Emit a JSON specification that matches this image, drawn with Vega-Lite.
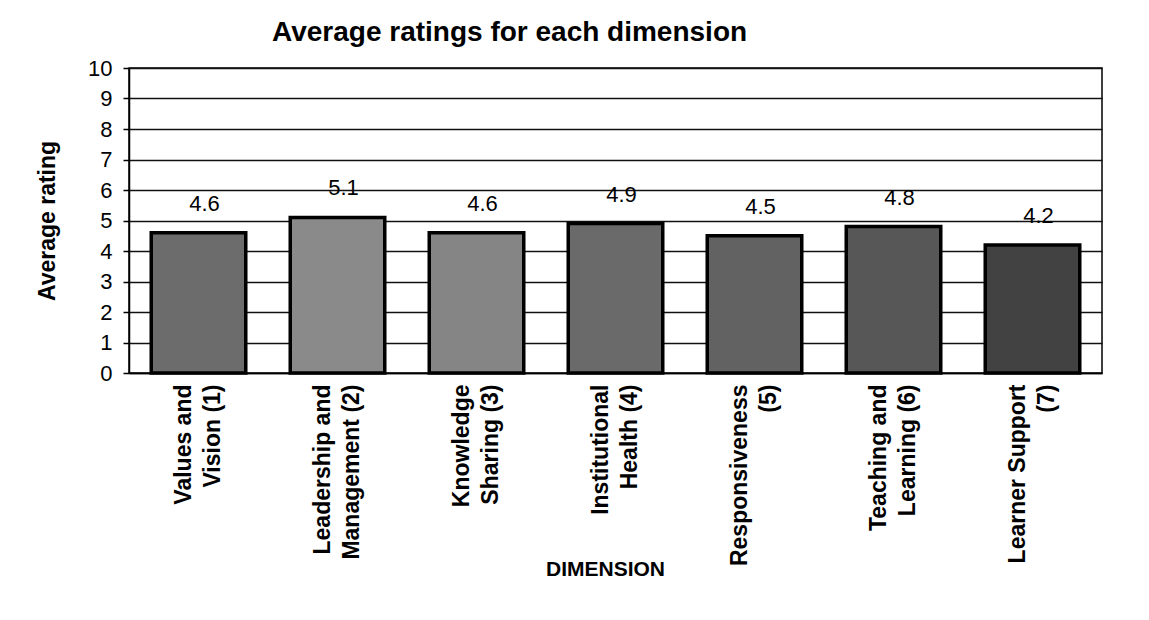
{
  "$schema": "https://vega.github.io/schema/vega-lite/v6.json",
  "autosize": "none",
  "width": 973,
  "height": 305,
  "padding": {"left": 129, "top": 68, "right": 47, "bottom": 247},
  "background": "white",
  "title": {
    "text": "Average ratings for each dimension",
    "anchor": "start",
    "frame": "group",
    "dx": 143,
    "offset": 10,
    "font": "Liberation Sans",
    "fontSize": 28,
    "fontWeight": "bold",
    "color": "#000000"
  },
  "data": {
    "values": [
      {"dimension": "Values and\nVision (1)", "rating": 4.6},
      {"dimension": "Leadership and\nManagement (2)", "rating": 5.1},
      {"dimension": "Knowledge\nSharing (3)", "rating": 4.6},
      {"dimension": "Institutional\nHealth (4)", "rating": 4.9},
      {"dimension": "Responsiveness\n(5)", "rating": 4.5},
      {"dimension": "Teaching and\nLearning (6)", "rating": 4.8},
      {"dimension": "Learner Support\n(7)", "rating": 4.2}
    ]
  },
  "encoding": {
    "x": {
      "field": "dimension",
      "type": "nominal",
      "sort": null,
      "scale": {"paddingInner": 0.32, "paddingOuter": 0.16},
      "axis": {
        "title": "DIMENSION",
        "titleFont": "Liberation Sans",
        "titleFontSize": 21,
        "titleFontWeight": "bold",
        "titleColor": "#000000",
        "titleBaseline": "top",
        "titleY": 185,
        "titleX": 476,
        "labelExpr": "split(datum.value, '\\n')",
        "labelAngle": -90,
        "labelFont": "Liberation Sans",
        "labelFontSize": 23,
        "labelFontWeight": "bold",
        "labelColor": "#000000",
        "labelLineHeight": 29,
        "labelPadding": 11,
        "labelOffset": -15,
        "labelLimit": 0,
        "ticks": false,
        "domainColor": "#000000",
        "domainWidth": 1.5,
        "grid": false
      }
    },
    "y": {
      "field": "rating",
      "type": "quantitative",
      "scale": {"domain": [0, 10], "nice": false},
      "axis": {
        "title": "Average rating",
        "titleFont": "Liberation Sans",
        "titleFontSize": 23,
        "titleFontWeight": "bold",
        "titleColor": "#000000",
        "titlePadding": 28,
        "values": [0, 1, 2, 3, 4, 5, 6, 7, 8, 9, 10],
        "labelFont": "Liberation Sans",
        "labelFontSize": 22,
        "labelColor": "#000000",
        "labelPadding": 11,
        "tickSize": 6,
        "tickColor": "#000000",
        "tickWidth": 1.5,
        "domainColor": "#000000",
        "domainWidth": 1.5,
        "grid": true,
        "gridColor": "#111111",
        "gridWidth": 1.5
      }
    }
  },
  "layer": [
    {
      "mark": {"type": "bar", "stroke": "#000000", "strokeWidth": 3.5},
      "encoding": {
        "color": {
          "field": "dimension",
          "type": "nominal",
          "sort": null,
          "scale": {"range": ["#6c6c6c", "#8a8a8a", "#858585", "#6a6a6a", "#626262", "#575757", "#424242"]},
          "legend": null
        }
      }
    },
    {
      "mark": {
        "type": "text",
        "baseline": "alphabetic",
        "dy": -22,
        "dx": 6,
        "font": "Liberation Sans",
        "fontSize": 22,
        "color": "#000000"
      },
      "encoding": {
        "text": {"field": "rating", "type": "quantitative", "format": ".1f"}
      }
    }
  ],
  "config": {
    "view": {"stroke": "#000000", "strokeWidth": 1.5}
  }
}
